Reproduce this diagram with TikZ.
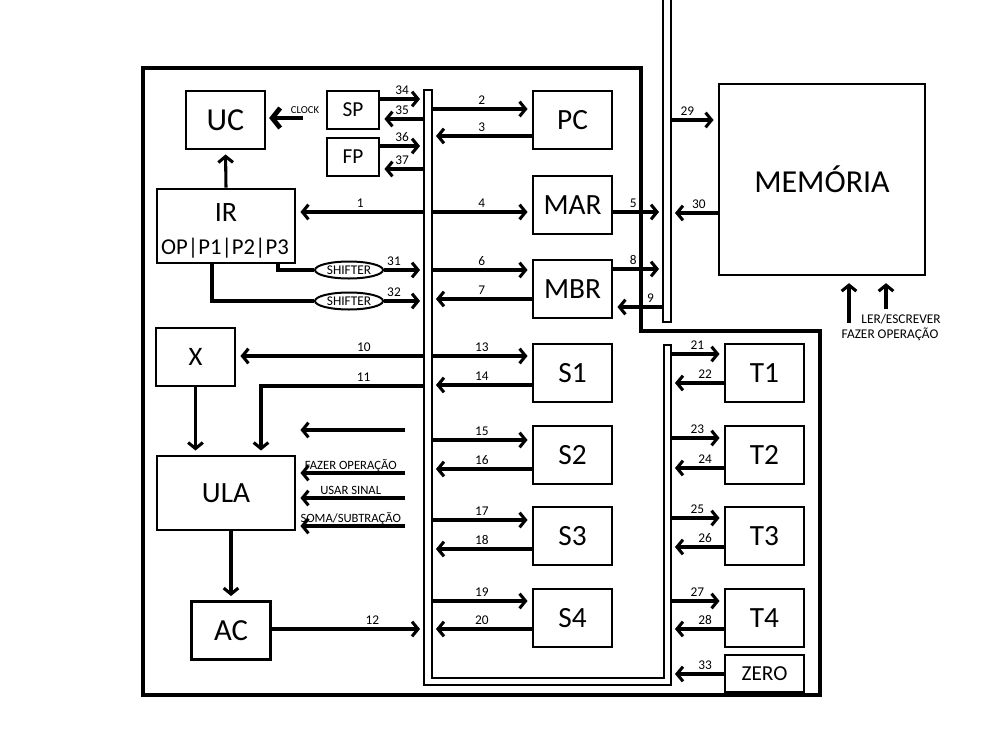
\documentclass[tikz,border=0pt]{standalone}
\usepackage{fontspec}
\setmainfont{Carlito}
\usetikzlibrary{arrows.meta,shapes.geometric}
\newlength\pxu
\setlength\pxu{0.75pt}
\tikzset{
  box/.style={draw, line width=2.2pt, inner sep=0pt, minimum width=79\pxu, minimum height=58\pxu, font=\fontsize{22}{22}\selectfont},
  arr/.style={line width=2.3pt, -{Straight Barb[length=4.5pt,width=11pt]}, shorten >=3pt},
  wire/.style={line width=2.3pt},
  bus/.style={line width=2pt},
  shifter/.style={draw, ellipse, line width=1.5pt, inner sep=0pt, minimum width=68\pxu, minimum height=17\pxu, font=\fontsize{10}{10}\selectfont},
  num/.style={above, inner sep=2.4pt, font=\fontsize{10}{10}\selectfont},
  ctl/.style={anchor=base, yshift=2.6pt, inner sep=0pt, font=\fontsize{9.5}{9.5}\selectfont},
}

\begin{document}
\begin{tikzpicture}[x=0.75pt,y=-0.75pt]
\useasboundingbox (0,0) rectangle (1000,750);
% cpu frame and buses
\draw[line width=3pt] (143,68) -- (641,68) -- (641,331) -- (820,331) -- (820,695) -- (143,695) -- cycle;
\draw[bus] (424,90) -- (424,685) -- (671,685) -- (671,345) -- (664,345) -- (664,678) -- (432,678) -- (432,90) -- cycle;
\draw[bus] (663,0) -- (663,322) -- (671,322) -- (671,0);

% registers
\node[box, font=\fontsize{24}{24}\selectfont] (uc) at (225.5,120) {UC};
\node[box, minimum width=52\pxu, minimum height=38\pxu, font=\fontsize{16}{16}\selectfont] (sp) at (353,110) {SP};
\node[box, minimum width=52\pxu, minimum height=38\pxu, font=\fontsize{16}{16}\selectfont] (fp) at (353,157) {FP};
\node[box, minimum width=138\pxu, minimum height=74\pxu] (ir) at (226,226) {};
\node[font=\fontsize{21}{21}\selectfont] (irname) at (226,213) {IR};
\node[font=\fontsize{17}{17}\selectfont] (irfields) at (225,248) {OP|P1|P2|P3};
\node[shifter] (sh1) at (349,270) {SHIFTER};
\node[shifter] (sh2) at (349,301) {SHIFTER};
\node[box, font=\fontsize{20}{20}\selectfont] (x) at (195.5,357) {X};
\node[box, minimum width=138\pxu, minimum height=74\pxu] (ula) at (226,493) {ULA};
\node[box, font=\fontsize{23}{23}\selectfont] (ac) at (231,630.5) {AC};
\node[box] (pc) at (572.5,120) {PC};
\node[box] (mar) at (572.5,205) {MAR};
\node[box] (mbr) at (572.5,289) {MBR};
\node[box] (s1) at (572.5,373) {S1};
\node[box] (s2) at (572.5,455) {S2};
\node[box] (s3) at (572.5,536) {S3};
\node[box] (s4) at (572.5,618) {S4};
\node[box] (t1) at (764.5,373) {T1};
\node[box] (t2) at (764.5,455) {T2};
\node[box] (t3) at (764.5,536) {T3};
\node[box] (t4) at (764.5,618) {T4};
\node[box, minimum height=37\pxu, font=\fontsize{16}{16}\selectfont] (zero) at (764.5,673.5) {ZERO};
\node[box, minimum width=206\pxu, minimum height=191\pxu, font=\fontsize{24}{24}\selectfont] (mem) at (822,179.5) {MEMÓRIA};

% taps on the buses
\coordinate (bl34) at (424,99); \coordinate (bl35) at (424,119); \coordinate (bl36) at (424,146); \coordinate (bl37) at (424,169);
\coordinate (bl1) at (424,212); \coordinate (bl10) at (424,356); \coordinate (bl11) at (424,386); \coordinate (bl12) at (424,629);
\coordinate (br2) at (432,109); \coordinate (br3) at (432,136); \coordinate (br4) at (432,212); \coordinate (br6) at (432,270); \coordinate (br7) at (432,299);
\coordinate (br13) at (432,356); \coordinate (br14) at (432,385); \coordinate (br15) at (432,440); \coordinate (br16) at (432,469);
\coordinate (br17) at (432,520); \coordinate (br18) at (432,549); \coordinate (br19) at (432,601); \coordinate (br20) at (432,629);
\coordinate (mb5) at (663,212); \coordinate (mb8) at (663,269); \coordinate (mb9) at (663,307);
\coordinate (mr29) at (671,120); \coordinate (mr30) at (671,213);
\coordinate (ub21) at (671,354); \coordinate (ub22) at (671,383); \coordinate (ub23) at (671,438); \coordinate (ub24) at (671,468);
\coordinate (ub25) at (671,518); \coordinate (ub26) at (671,547); \coordinate (ub27) at (671,601); \coordinate (ub28) at (671,629); \coordinate (ub33) at (671,674);
\coordinate (p3) at (278,263); \coordinate (p1) at (212,263); \coordinate (c11) at (261,386);
\coordinate (clk) at (303,118); \coordinate (k0) at (405,430); \coordinate (k1) at (405,473); \coordinate (k2) at (405,498); \coordinate (k3) at (405,526);
\coordinate (rw) at (849,323); \coordinate (op) at (886,309);

% control unit side
\draw[line width=3.6pt, -{Straight Barb[length=6pt,width=15pt]}, shorten >=2pt] (clk) -- (clk -| uc.east);
\node[font=\fontsize{8}{8}\selectfont] (clocklbl) at (305,110) {CLOCK};
\draw[arr] (ir.north) -- (uc.south);
\draw[arr] (sp.east |- bl34) -- (bl34) node[num,midway] {34};
\draw[arr] (bl35) -- (bl35 -| sp.east) node[num,midway] {35};
\draw[arr] (fp.east |- bl36) -- (bl36) node[num,midway] {36};
\draw[arr] (bl37) -- (bl37 -| fp.east) node[num,midway] {37};
\draw[arr] (bl1) -- (bl1 -| ir.east) node[num,midway] {1};
\draw[wire] (p3) |- (sh1.west);
\draw[wire] (p1) |- (sh2.west);
\draw[arr] (sh1.east) -- (sh1.east -| bl1) node[num,pos=0.25] {31};
\draw[arr] (sh2.east) -- (sh2.east -| bl1) node[num,pos=0.25] {32};

% alu side
\draw[arr] (bl10) -- (bl10 -| x.east) node[num,pos=0.32] {10};
\draw[arr] (bl11) -- node[num,pos=0.37] {11} (c11) -- (c11 |- ula.north);
\draw[arr] (x.south) -- (x.south |- ula.north);
\draw[arr] (k0) -- (k0 -| ula.east);
\draw[arr] (k1) -- (k1 -| ula.east) node[ctl,midway] {FAZER OPERAÇÃO};
\draw[arr] (k2) -- (k2 -| ula.east) node[ctl,midway] {USAR SINAL};
\draw[arr] (k3) -- (k3 -| ula.east) node[ctl,midway] {SOMA/SUBTRAÇÃO};
\draw[arr] (ac.north |- ula.south) -- (ac.north);
\draw[arr] (ac.east |- bl12) -- (bl12) node[num,pos=0.66] {12};

% bus to registers
\draw[arr] (br2) -- (br2 -| pc.west) node[num,midway] {2};
\draw[arr] (pc.west |- br3) -- (br3) node[num,midway] {3};
\draw[arr] (br4) -- (br4 -| mar.west) node[num,midway] {4};
\draw[arr] (br6) -- (br6 -| mbr.west) node[num,midway] {6};
\draw[arr] (mbr.west |- br7) -- (br7) node[num,midway] {7};
\draw[arr] (br13) -- (br13 -| s1.west) node[num,midway] {13};
\draw[arr] (s1.west |- br14) -- (br14) node[num,midway] {14};
\draw[arr] (br15) -- (br15 -| s2.west) node[num,midway] {15};
\draw[arr] (s2.west |- br16) -- (br16) node[num,midway] {16};
\draw[arr] (br17) -- (br17 -| s3.west) node[num,midway] {17};
\draw[arr] (s3.west |- br18) -- (br18) node[num,midway] {18};
\draw[arr] (br19) -- (br19 -| s4.west) node[num,midway] {19};
\draw[arr] (s4.west |- br20) -- (br20) node[num,midway] {20};

% memory bus
\draw[arr] (mar.east |- mb5) -- (mb5) node[num,pos=0.4] {5};
\draw[arr] (mbr.east |- mb8) -- (mb8) node[num,pos=0.4] {8};
\draw[arr] (mb9) -- (mb9 -| mbr.east) node[num,pos=0.25] {9};
\draw[arr] (mr29) -- (mr29 -| mem.west) node[num,pos=0.35] {29};
\draw[arr] (mem.west |- mr30) -- (mr30) node[num,pos=0.4] {30};
\draw[arr, shorten >=5pt] (rw) -- (rw |- mem.south);
\draw[arr, shorten >=5pt] (op) -- (op |- mem.south);
\node[font=\fontsize{10}{10}\selectfont] (oplbl) at (901,319) {LER/ESCREVER};
\node[font=\fontsize{10}{10}\selectfont] (rwlbl) at (890,334) {FAZER OPERAÇÃO};

% temporaries
\draw[arr] (ub21) -- (ub21 -| t1.west) node[num,midway] {21};
\draw[arr] (t1.west |- ub22) -- (ub22) node[num,pos=0.35] {22};
\draw[arr] (ub23) -- (ub23 -| t2.west) node[num,midway] {23};
\draw[arr] (t2.west |- ub24) -- (ub24) node[num,pos=0.35] {24};
\draw[arr] (ub25) -- (ub25 -| t3.west) node[num,midway] {25};
\draw[arr] (t3.west |- ub26) -- (ub26) node[num,pos=0.35] {26};
\draw[arr] (ub27) -- (ub27 -| t4.west) node[num,midway] {27};
\draw[arr] (t4.west |- ub28) -- (ub28) node[num,pos=0.35] {28};
\draw[arr] (zero.west |- ub33) -- (ub33) node[num,pos=0.35] {33};
\end{tikzpicture}
\end{document}
